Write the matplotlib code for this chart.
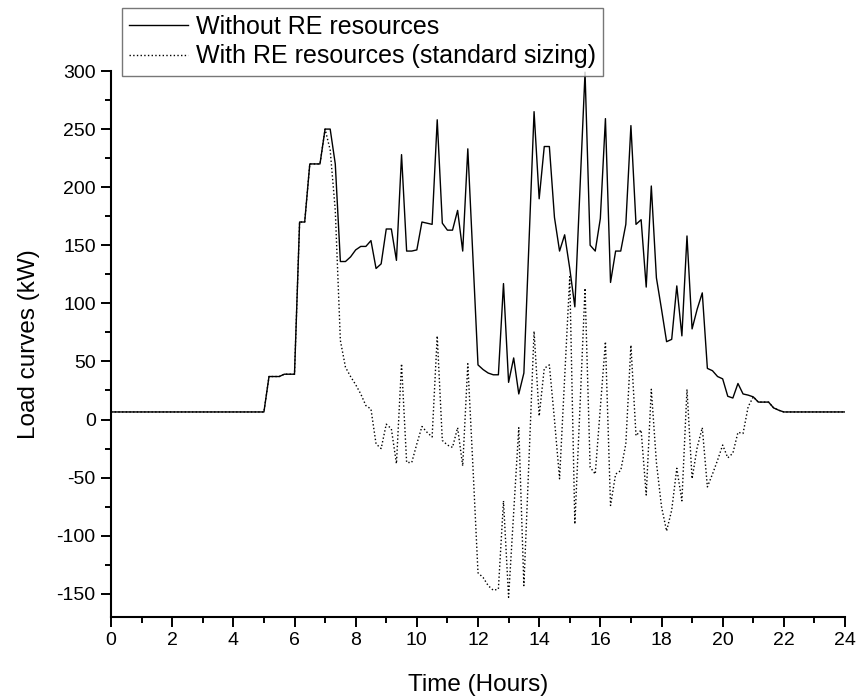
import numpy as np
import matplotlib
matplotlib.use("Agg")
import matplotlib.pyplot as plt
from matplotlib.ticker import MultipleLocator

plt.rcParams['font.family'] = ['Liberation Sans', 'DejaVu Sans']
plt.rcParams['axes.unicode_minus'] = False

# load in kW, 10 minute steps from 5:00 to 22:00 (one row per hour)
base_load = 6.5
load_without_re = [
    6.5, 37, 37, 37, 39, 39,            # 5h
    39, 170, 170, 220, 220, 220,        # 6h
    250, 250, 220, 136, 136, 140,       # 7h
    146, 149, 149, 154, 130, 134,       # 8h
    164, 164, 137, 228, 145, 145,       # 9h
    146, 170, 169, 168, 258, 169,       # 10h
    163, 163, 180, 145, 233, 140,       # 11h
    47, 43, 40, 38.5, 38.5, 117,        # 12h
    32, 53, 22, 40, 152, 265,           # 13h
    190, 235, 235, 174, 145, 159,       # 14h
    130, 97, 198, 299, 150, 145,        # 15h
    173, 259, 118, 145, 145, 168,       # 16h
    253, 168, 172, 114, 201, 122,       # 17h
    95, 67, 69, 115, 72, 158,           # 18h
    78, 95, 109, 44, 42, 37,            # 19h
    35, 20, 18.5, 31, 22, 21,           # 20h
    19.5, 15, 15, 15, 10, 8,            # 21h
    6.5,                                # 22h
]
load_with_re = [
    6.5, 37, 37, 37, 39, 39,
    39, 170, 170, 220, 220, 220,
    250, 232, 180, 68, 45, 37,
    30, 22, 12, 9, -21, -25,
    -4, -8, -38, 48, -37, -37,
    -21, -6, -11, -15, 72, -18,
    -22, -24, -7, -40, 48, -40,
    -132, -136, -143, -147, -146, -70,
    -153, -80, -7, -143, -35, 76,
    3, 44, 47, 0, -51, 36,
    123, -90, 10, 113, -41, -47,
    10, 67, -74, -47, -44, -21,
    64, -14, -9, -65, 26, -37,
    -75, -96, -78, -42, -70, 26,
    -51, -24, -7, -58, -47, -35,
    -22, -33, -29, -11, -12, 11,
    19.5, 15, 15, 15, 10, 8,
    6.5,
]

hours = np.concatenate([[0], np.linspace(5, 22, len(load_without_re)), [24]])
y1 = np.concatenate([[base_load], load_without_re, [base_load]])
y2 = np.concatenate([[base_load], load_with_re, [base_load]])

fig = plt.figure(figsize=(8.58, 6.97), dpi=100)
ax = fig.add_axes([111/858, 1 - 617/697, 734/858, 546/697])

ax.plot(hours, y1, color='black', lw=1.0, label='Without RE resources')
ax.plot(hours, y2, color='black', lw=1.0, ls=':', label='With RE resources (standard sizing)')

ax.set_xlim(0, 24)
ax.set_ylim(-170, 300)
ax.xaxis.set_major_locator(MultipleLocator(2))
ax.xaxis.set_minor_locator(MultipleLocator(1))
ax.yaxis.set_major_locator(MultipleLocator(50))
ax.yaxis.set_minor_locator(MultipleLocator(25))
ax.spines['top'].set_visible(False)
ax.spines['right'].set_visible(False)
for s in ('left', 'bottom'):
    ax.spines[s].set_linewidth(1.5)
ax.tick_params(which='major', direction='out', length=7, width=1.4, labelsize=14, pad=4)
ax.tick_params(which='minor', direction='out', length=4, width=1.4)

ax.set_xlabel('Time (Hours)', fontsize=17.5, labelpad=18)
ax.set_ylabel('Load curves (kW)', fontsize=17.5, labelpad=12)

leg = fig.legend(loc='upper left', bbox_to_anchor=(122/858, 1 - 8/697), borderaxespad=0,
                 fontsize=18, frameon=True, fancybox=False, handlelength=2.36,
                 handletextpad=0.32, labelspacing=0.22, borderpad=0.28)
leg.get_frame().set_edgecolor('#555555')
leg.get_frame().set_linewidth(1.0)

fig.savefig('out.png', dpi=100)
